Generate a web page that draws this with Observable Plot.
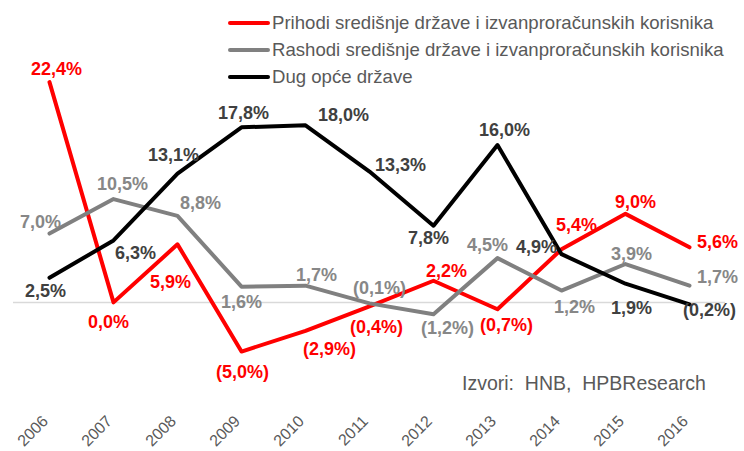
<!DOCTYPE html>
<html>
<head>
<meta charset="utf-8">
<script src="https://cdn.jsdelivr.net/npm/d3@7"></script>
<script src="https://cdn.jsdelivr.net/npm/@observablehq/plot@0.6"></script>
<style>
  html, body { margin: 0; padding: 0; background: #fff; }
  #wrap { position: relative; width: 744px; height: 451px; overflow: hidden; font-family: "Liberation Sans", Arial, sans-serif; }
  #wrap svg { position: absolute; left: 0; top: 0; }
  .legend { position: absolute; left: 228px; top: 9px; color: #595959; font-size: 18.6px; }
  .legend .row { display: flex; align-items: center; height: 27px; }
  .legend .sw { width: 42px; height: 4px; margin-right: 2px; border-radius: 2px; }
  .source { position: absolute; left: 462px; top: 372px; color: #595959; font-size: 19.5px; white-space: pre; }
</style>
</head>
<body>
<div id="wrap"></div>
<script>
// ---- data ----
const years = [2006, 2007, 2008, 2009, 2010, 2011, 2012, 2013, 2014, 2015, 2016];
const seriesNames = [
  "Prihodi središnje države i izvanproračunskih korisnika",
  "Rashodi središnje države i izvanproračunskih korisnika",
  "Dug opće države"
];
const prihodi = [22.4, 0.0, 5.9, -5.0, -2.9, -0.4, 2.2, -0.7, 5.4, 9.0, 5.6];
const rashodi = [7.0, 10.5, 8.8, 1.6, 1.7, -0.1, -1.2, 4.5, 1.2, 3.9, 1.7];
const dug = [2.5, 6.3, 13.1, 17.8, 18.0, 13.3, 7.8, 16.0, 4.9, 1.9, -0.2];
const sourceText = "Izvori:  HNB,  HPBResearch";

// ---- layout (label placement offsets, px) ----
const prihodiDx = [7, -5, -7, 1, 24, 7, 13, 9, 15, 10, 28];
const prihodiDy = [-13, 20, 38, 21, 18, 21, -10, 16, -24, -12, -5];
const rashodiDx = [-9, 9, 23, 0, 11, 10, 14, -10, 13, 6, 28];
const rashodiDy = [-11, -15, -13, 16, -10, -15, 14, -13, 17, -10, -8];
const dugDx = [-4, 22, -4, 2, 38, 31, -5, 7, -25, 6, 20];
const dugDy = [13, 13, -18, -14, -10, -6, 13, -15, -7, 25, 6];

const lineColors = ["#ff0000", "#808080", "#000000"];
const labelColors = ["#ff0000", "#878787", "#404040"];

const seriesValues = [prihodi, rashodi, dug];
const seriesDx = [prihodiDx, rashodiDx, dugDx];
const seriesDy = [prihodiDy, rashodiDy, dugDy];

const fmt = v => {
  const s = Math.abs(v).toFixed(1).replace(".", ",") + "%";
  return v < 0 ? "(" + s + ")" : s;
};

const tables = seriesValues.map((vals, s) =>
  years.map((y, i) => ({ year: String(y), value: vals[i], series: seriesNames[s], i }))
);

const marks = [
  Plot.ruleY([0], { stroke: "#d9d9d9", strokeWidth: 1.5 }),
  Plot.axisX({ tickSize: 0, tickRotate: -45, tickPadding: 3, fontSize: 16, fill: "#595959", label: null, dx: -4, dy: 1 }),
];
tables.forEach((t, s) => {
  marks.push(Plot.line(t, { x: "year", y: "value", stroke: lineColors[s], strokeWidth: 4, strokeLinejoin: "round", strokeLinecap: "round" }));
});
tables.forEach((t, s) => {
  t.forEach((d, i) => {
    marks.push(Plot.text([d], {
      x: "year", y: "value", text: d => fmt(d.value),
      dx: seriesDx[s][i], dy: seriesDy[s][i],
      fill: labelColors[s], fontSize: 18, fontWeight: "bold"
    }));
  });
});

const chart = Plot.plot({
  width: 744,
  height: 451,
  marginLeft: 13,
  marginRight: 19,
  marginTop: 56,
  marginBottom: 37,
  style: { fontFamily: "'Liberation Sans', Arial, sans-serif", background: "transparent", overflow: "visible" },
  x: { type: "point", domain: years.map(String), padding: 0.5, axis: null },
  y: { domain: [-11.4, 25], axis: null },
  marks
});

const wrap = document.getElementById("wrap");
wrap.appendChild(chart);

const legend = document.createElement("div");
legend.className = "legend";
seriesNames.forEach((name, s) => {
  const row = document.createElement("div");
  row.className = "row";
  const sw = document.createElement("span");
  sw.className = "sw";
  sw.style.background = lineColors[s];
  const tx = document.createElement("span");
  tx.textContent = name;
  row.appendChild(sw);
  row.appendChild(tx);
  legend.appendChild(row);
});
wrap.appendChild(legend);

const src = document.createElement("div");
src.className = "source";
src.textContent = sourceText;
wrap.appendChild(src);
</script>
</body>
</html>
